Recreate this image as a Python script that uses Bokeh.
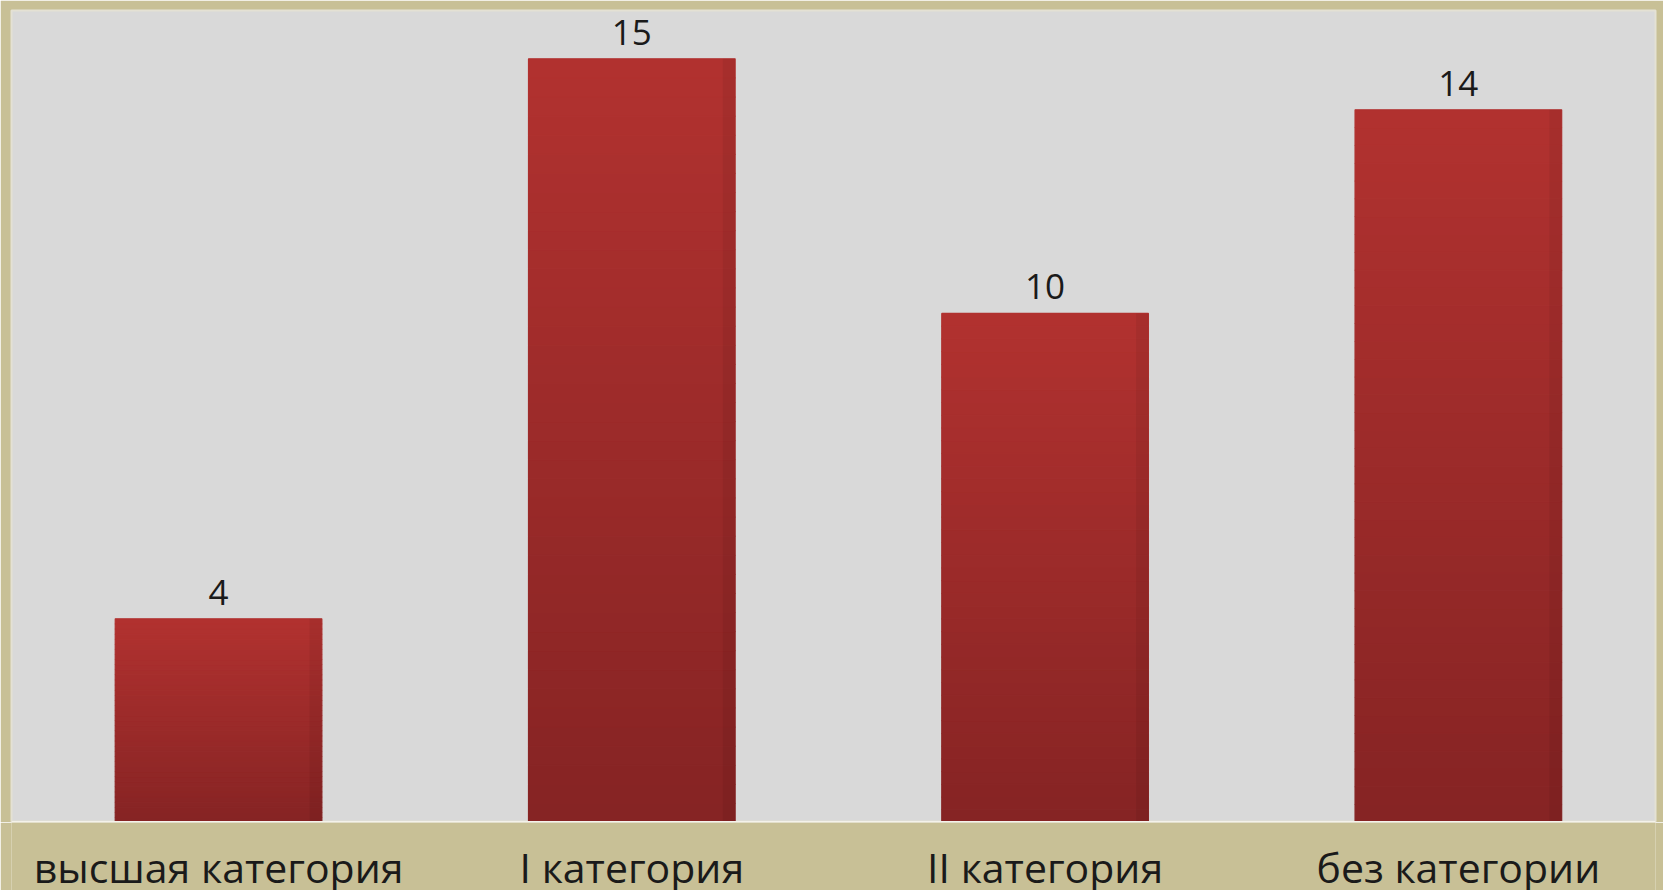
from bokeh.plotting import figure
from bokeh.layouts import column
from bokeh.models import Range1d, ColumnDataSource, LabelSet, Span
from bokeh.core.properties import value
from bokeh.embed import file_html
from bokeh.resources import INLINE

categories = ["высшая категория", "I категория", "II категория", "без категории"]
counts = [4, 15, 10, 14]

FONT = "Open Sans"
TAN = "#c8c096"
TOP = (178, 50, 48)
BOTTOM = (134, 36, 36)
N_SLICES = 40

xs = list(range(1, len(categories) + 1))
xr = Range1d(0.499, 4.477)

p = figure(width=1663, height=822, output_backend="svg", toolbar_location=None,
           x_range=xr, y_range=Range1d(0, 15.95),
           min_border_left=11, min_border_top=10, min_border_right=8, min_border_bottom=0)
p.background_fill_color = "#d9d9d9"
p.border_fill_color = TAN
p.outline_line_color = "#e4e1d4"
p.outline_line_width = 2
p.grid.visible = False
p.xaxis.visible = False
p.yaxis.visible = False

# gradient bars: each bar split into horizontal slices
sx, sb, st, sc = [], [], [], []
for x, v in zip(xs, counts):
    for k in range(N_SLICES):
        f = (k + 0.5) / N_SLICES
        r = int(BOTTOM[0] + (TOP[0] - BOTTOM[0]) * f)
        g = int(BOTTOM[1] + (TOP[1] - BOTTOM[1]) * f)
        b = int(BOTTOM[2] + (TOP[2] - BOTTOM[2]) * f)
        sx.append(x)
        sb.append(v * k / N_SLICES)
        st.append(v * (k + 1) / N_SLICES)
        sc.append("#%02x%02x%02x" % (r, g, b))
src = ColumnDataSource(dict(x=sx, bottom=sb, top=st, color=sc))
p.vbar(x="x", bottom="bottom", top="top", width=0.5, fill_color="color", line_color="color",
       line_width=1.2, source=src)

# slightly darker right edge
p.vbar(x=[x + 0.235 for x in xs], top=counts, bottom=0, width=0.03,
       fill_color="black", fill_alpha=0.06, line_alpha=0)

# white base line
p.add_layout(Span(location=0, dimension="width", line_color="#f4f2ea", line_width=3))

lab = ColumnDataSource(dict(x=xs, y=counts, t=[str(c) for c in counts]))
p.add_layout(LabelSet(x="x", y="y", text="t", source=lab, y_offset=14,
                      text_align="center", text_baseline="alphabetic",
                      text_font=value(FONT), text_font_size="35px", text_color="#1a1a1a"))

# category label strip below the plot
q = figure(width=1663, height=68, output_backend="svg", toolbar_location=None,
           x_range=xr, y_range=Range1d(0, 68),
           min_border_left=11, min_border_top=0, min_border_right=8, min_border_bottom=0)
q.background_fill_color = TAN
q.border_fill_color = TAN
q.outline_line_color = None
q.grid.visible = False
q.xaxis.visible = False
q.yaxis.visible = False
cat_src = ColumnDataSource(dict(x=xs, y=[24] * len(xs), cat=categories))
q.text(x="x", y="y", text="cat", source=cat_src, text_align="center",
       text_baseline="alphabetic", text_font=value(FONT), text_font_size="41px",
       text_color="#1a1a1a")

layout = column(p, q, spacing=0)
open("out.html", "w").write(file_html(layout, INLINE))
